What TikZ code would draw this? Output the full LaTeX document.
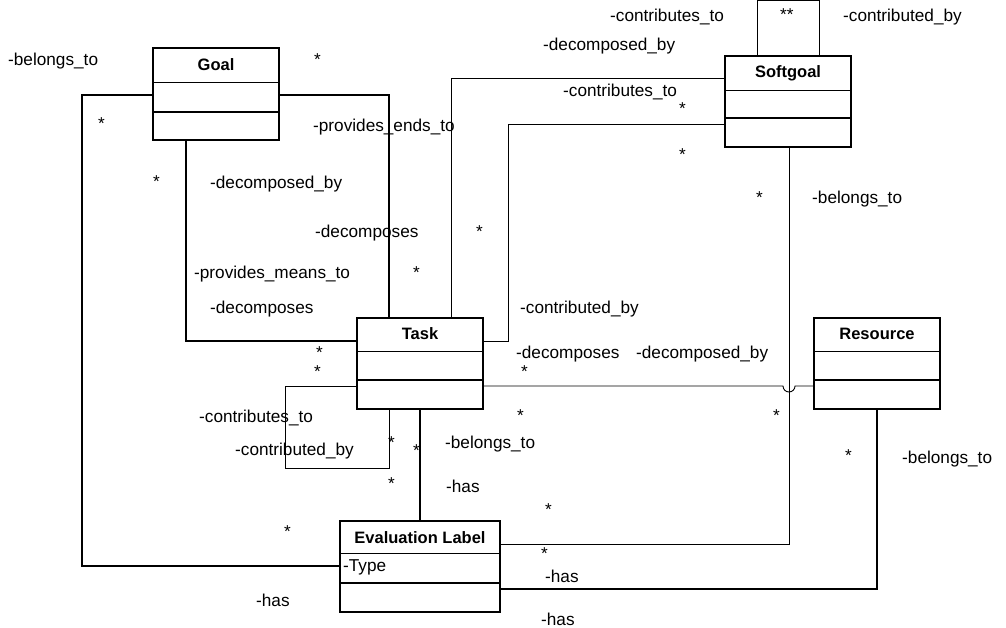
\documentclass[tikz,border=0pt]{standalone}
\usepackage{fontspec}
\setmainfont{Liberation Sans}
\begin{document}
\begin{tikzpicture}[x=1pt,y=-1pt,
 lbl/.style={anchor=west,inner sep=0,font=\fontsize{17.2}{19}\selectfont},
 cname/.style={font=\bfseries\fontsize{16.5}{18}\selectfont},
 box/.style={draw,line width=1.3pt},
 thick/.style={line width=1.6pt},thin/.style={line width=0.9pt}]
\useasboundingbox (0,0) rectangle (1006,627);
\fill[white] (0,0) rectangle (1006,627);
% classes
\draw[box] (153,48) rectangle (279,140); \draw[thin] (153,82)--(279,82); \draw[thick] (153,112)--(279,112);
\node[cname] (goal) at (216,65) {Goal};
\draw[box] (725,56) rectangle (851,147); \draw[thin] (725,90)--(851,90); \draw[thick] (725,118)--(851,118);
\node[cname] (soft) at (788,73) {Softgoal};
\draw[box] (357,318) rectangle (483,409); \draw[thin] (357,351)--(483,351); \draw[thick] (357,380)--(483,380);
\node[cname] (task) at (420,334) {Task};
\draw[box] (814,318) rectangle (940,409); \draw[thin] (814,351)--(940,351); \draw[thick] (814,380)--(940,380);
\node[cname] (res) at (877,334) {Resource};
\draw[box] (340,521) rectangle (500,612); \draw[thin] (340,553)--(500,553); \draw[thick] (340,583)--(500,583);
\node[cname] (eval) at (420,538) {Evaluation Label};
\node[lbl] (type) at (343,567) {-Type};
% connector endpoints
\coordinate (gL) at (153,95); \coordinate (gR) at (279,95); \coordinate (gB) at (186,140);
\coordinate (tT1) at (389,318); \coordinate (tT2) at (451,318); \coordinate (tL1) at (357,341);
\coordinate (tR1) at (483,341); \coordinate (tR2) at (483,386); \coordinate (tL2) at (357,386);
\coordinate (tB1) at (389,409); \coordinate (tB2) at (420,409);
\coordinate (sL1) at (725,78); \coordinate (sL2) at (725,124); \coordinate (sB) at (789,147);
\coordinate (sT1) at (757,56); \coordinate (sT2) at (819,56);
\coordinate (rL) at (814,386); \coordinate (rB) at (877,409);
\coordinate (eL) at (340,566); \coordinate (eT) at (420,521); \coordinate (eR1) at (500,544); \coordinate (eR2) at (500,589);
\draw[thick] (gL) -- (82,95) -- (82,566) -- (eL);
\draw[thick] (gR) -- (389,95) -- (tT1);
\draw[thick] (gB) -- (186,341) -- (tL1);
\draw[thin] (sL1) -- (451,78) -- (tT2);
\draw[thin] (sL2) -- (508,124) -- (508,341) -- (tR1);
\draw[thin] (tR2) -- (783,386) arc[start angle=180,end angle=0,radius=6] -- (rL);
\draw[thin] (sB) -- (789,544) -- (eR1);
\draw[thin] (tL2) -- (285,386) -- (285,468) -- (389,468) -- (tB1);
\draw[thick] (tB2) -- (eT);
\draw[thick] (rB) -- (877,589) -- (eR2);
\draw[thin] (sT1) -- (757,0.5) -- (819,0.5) -- (sT2);
% labels
\node[lbl] (a1) at (8,61) {-belongs\_to};
\node[lbl] (a2) at (314,60) {*};
\node[lbl] (a3) at (98,124) {*};
\node[lbl] (a4) at (313,127) {-provides\_ends\_to};
\node[lbl] (a5) at (153,182) {*};
\node[lbl] (a6) at (210,184) {-decomposed\_by};
\node[lbl] (a7) at (315,233) {-decomposes};
\node[lbl] (a8) at (194,274) {-provides\_means\_to};
\node[lbl] (a9) at (413,273) {*};
\node[lbl] (a10) at (210,309) {-decomposes};
\node[lbl] (a11) at (476,232) {*};
\node[lbl] (a12) at (610,17) {-contributes\_to};
\node[lbl] (a13) at (780,15) {**};
\node[lbl] (a14) at (843,17) {-contributed\_by};
\node[lbl] (a15) at (543,46) {-decomposed\_by};
\node[lbl] (a16) at (563,92) {-contributes\_to};
\node[lbl] (a17) at (679,109) {*};
\node[lbl] (a18) at (679,155) {*};
\node[lbl] (a19) at (756,198) {*};
\node[lbl] (a20) at (812,199) {-belongs\_to};
\node[lbl] (a21) at (520,309) {-contributed\_by};
\node[lbl] (a22) at (516,354) {-decomposes};
\node[lbl] (a23) at (636,354) {-decomposed\_by};
\node[lbl] (a24) at (316,353) {*};
\node[lbl] (a25) at (314,372) {*};
\node[lbl] (a26) at (521,372) {*};
\node[lbl] (a27) at (199,418) {-contributes\_to};
\node[lbl] (a28) at (235,451) {-contributed\_by};
\node[lbl] (a29) at (388,443) {*};
\node[lbl] (a30) at (413,451) {*};
\node[lbl] (a31) at (445,444) {-belongs\_to};
\node[lbl] (a32) at (517,416) {*};
\node[lbl] (a33) at (773,416) {*};
\node[lbl] (a34) at (845,456) {*};
\node[lbl] (a35) at (902,459) {-belongs\_to};
\node[lbl] (a36) at (446,486) {-has};
\node[lbl] (a37) at (388,484) {*};
\node[lbl] (a38) at (545,510) {*};
\node[lbl] (a39) at (284,532) {*};
\node[lbl] (a40) at (541,554) {*};
\node[lbl] (a41) at (545,576) {-has};
\node[lbl] (a42) at (256,600) {-has};
\node[lbl] (a43) at (541,619) {-has};
\end{tikzpicture}
\end{document}
